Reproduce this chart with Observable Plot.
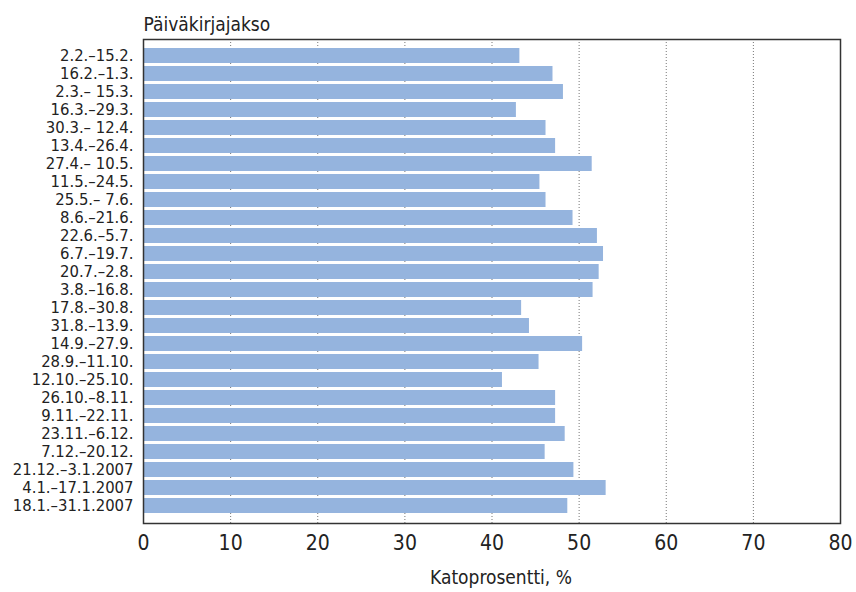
<!DOCTYPE html>
<html>
<head>
<meta charset="utf-8">
<script src="https://cdn.jsdelivr.net/npm/d3@7"></script>
<script src="https://cdn.jsdelivr.net/npm/@observablehq/plot@0.6"></script>
<style>
  html, body { margin: 0; padding: 0; background: white; }
</style>
</head>
<body>
<div id="chart"></div>
<script>
const periods = [
  "2.2.–15.2.", "16.2.–1.3.", "2.3.– 15.3.", "16.3.–29.3.", "30.3.– 12.4.",
  "13.4.–26.4.", "27.4.– 10.5.", "11.5.–24.5.", "25.5.– 7.6.", "8.6.–21.6.",
  "22.6.–5.7.", "6.7.–19.7.", "20.7.–2.8.", "3.8.–16.8.", "17.8.–30.8.",
  "31.8.–13.9.", "14.9.–27.9.", "28.9.–11.10.", "12.10.–25.10.", "26.10.–8.11.",
  "9.11.–22.11.", "23.11.–6.12.", "7.12.–20.12.", "21.12.–3.1.2007", "4.1.–17.1.2007",
  "18.1.–31.1.2007"
];
const values = [
  43.2, 47.0, 48.2, 42.8, 46.2, 47.3, 51.5, 45.5, 46.2, 49.3,
  52.1, 52.8, 52.3, 51.6, 43.4, 44.3, 50.4, 45.4, 41.2, 47.3,
  47.3, 48.4, 46.1, 49.4, 53.1, 48.7
];
const xTicks = [0, 10, 20, 30, 40, 50, 60, 70, 80];
const gridTicks = [10, 20, 30, 40, 50, 60, 70];
const yTitle = "Päiväkirjajakso";
const xTitle = "Katoprosentti, %";

const data = periods.map((p, i) => ({period: p, value: values[i]}));
const font = "'DejaVu Sans Condensed', 'Liberation Sans', sans-serif";

const chart = Plot.plot({
  width: 856,
  height: 592,
  marginTop: 39,
  marginBottom: 69,
  marginLeft: 143,
  marginRight: 16,
  style: {fontFamily: font, background: "white", color: "#222"},
  x: {domain: [0, 80], label: null},
  y: {domain: periods, padding: 0.15, label: null},
  marks: [
    Plot.gridX(gridTicks, {stroke: "#555", strokeOpacity: 0.8, strokeDasharray: "1,2"}),
    Plot.barX(data, {x: "value", y: "period", fill: "#95b4de"}),
    Plot.frame({stroke: "#333", strokeWidth: 1.5}),
    Plot.axisX({ticks: xTicks, tickSize: 0, tickPadding: 12, fontSize: 21, label: null}),
    Plot.axisY({tickSize: 0, tickPadding: 10, fontSize: 16.5, label: null}),
    Plot.text([yTitle], {frameAnchor: "top-left", textAnchor: "start", lineAnchor: "bottom", dy: -9, fontSize: 19, fill: "#222"}),
    Plot.text([xTitle], {frameAnchor: "bottom", lineAnchor: "top", dx: 9, dy: 47, fontSize: 19, fill: "#222"})
  ]
});
document.getElementById("chart").appendChild(chart);
</script>
</body>
</html>
